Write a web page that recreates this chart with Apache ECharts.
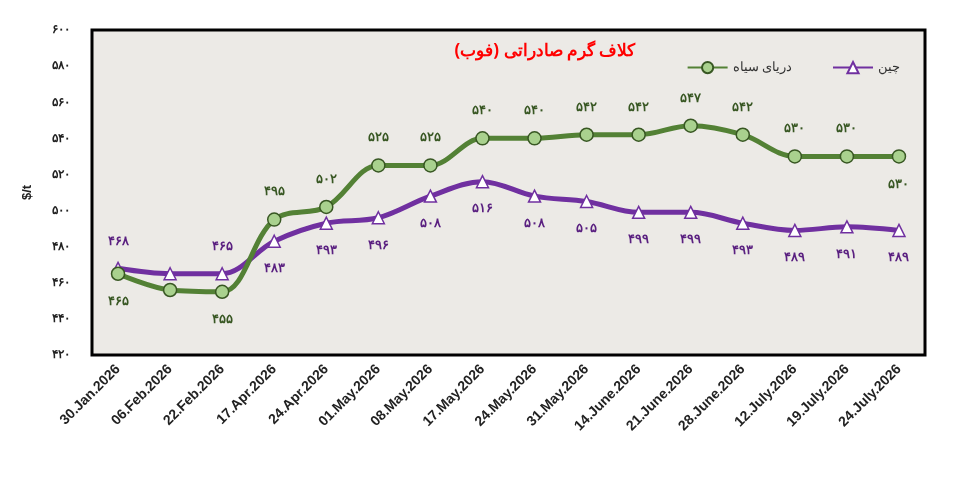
<!DOCTYPE html><html><head><meta charset="utf-8"><script src="https://cdn.jsdelivr.net/npm/echarts@6/dist/echarts.min.js"></script>
<style>body{margin:0;background:#fff}#c{width:960px;height:503px}</style></head><body><div id="c"></div><script>
const categories=['30.Jan.2026','06.Feb.2026','22.Feb.2026','17.Apr.2026','24.Apr.2026','01.May.2026','08.May.2026','17.May.2026','24.May.2026','31.May.2026','14.June.2026','21.June.2026','28.June.2026','12.July.2026','19.July.2026','24.July.2026'];
const blackSea=[465,456,455,495,502,525,525,540,540,542,542,547,542,530,530,530];
const china=[468,465,465,483,493,496,508,516,508,505,499,499,493,489,491,489];
const blackSeaBelow=[0,2,15];
const chinaAbove=[0,2];
const fa=n=>String(n).replace(/\d/g,d=>'۰۱۲۳۴۵۶۷۸۹'[d]);
const ch=echarts.init(document.getElementById('c'));
ch.setOption({
 title:{text:'کلاف گرم صادراتی (فوب)',left:540,top:38,textAlign:'center',textStyle:{color:'#ff0000',fontSize:17,fontWeight:'bold',fontFamily:'Noto Sans'}},
 legend:{top:56,right:55,itemGap:40,textStyle:{fontSize:13,color:'#333',fontFamily:'Noto Sans'},data:['دریای سیاه','چین'],itemWidth:40},
 grid:{left:92,right:35,top:30,bottom:148,show:true,borderColor:'#000',borderWidth:3,backgroundColor:'#eceae6'},
 xAxis:{type:'category',data:categories,boundaryGap:true,axisTick:{show:false},axisLine:{show:false},
  axisLabel:{rotate:45,fontWeight:'bold',fontSize:14,color:'#222',fontFamily:'Liberation Sans',interval:0,margin:12}},
 yAxis:{type:'value',min:420,max:600,interval:20,splitLine:{show:false},axisLine:{show:false},axisTick:{show:false},
  name:'$/t',nameLocation:'middle',nameGap:58,nameRotate:90,nameTextStyle:{fontWeight:'bold',fontSize:13,color:'#222'},
  axisLabel:{formatter:v=>fa(v),fontWeight:'bold',fontSize:12,color:'#222',margin:22}},
 series:[
  {name:'دریای سیاه',type:'line',smooth:0.35,data:blackSea.map((v,i)=>({value:v,label:{show:i!==1,position:blackSeaBelow.includes(i)?'bottom':'top',distance:14}})),
   symbol:'circle',symbolSize:13,lineStyle:{width:5,color:'#538135'},itemStyle:{color:'#a9d18e',borderColor:'#385723',borderWidth:1.5},
   label:{formatter:p=>fa(p.value),color:'#385723',fontSize:13,fontWeight:'bold'},z:3},
  {name:'چین',type:'line',smooth:0.35,data:china.map((v,i)=>({value:v,label:{show:i!==1,position:chinaAbove.includes(i)?'top':'bottom',distance:14}})),
   symbol:'triangle',symbolSize:12,lineStyle:{width:5,color:'#7030a0'},itemStyle:{color:'#ffffff',borderColor:'#7030a0',borderWidth:1.5},
   label:{formatter:p=>fa(p.value),color:'#5a2080',fontSize:13,fontWeight:'bold'},z:2}
 ]
});
</script></body></html>
